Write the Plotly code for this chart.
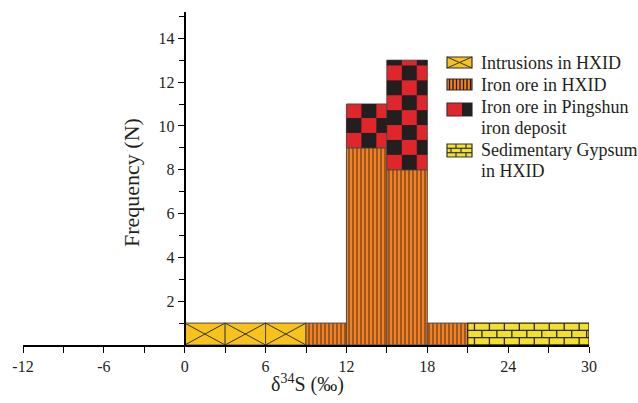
import math
import plotly.graph_objects as go

# ---------------- data ----------------
bin_left = [0, 3, 6, 9, 12, 15, 18, 21, 24, 27]
bin_width = 3
intrusions = [1, 1, 1, 0, 0, 0, 0, 0, 0, 0]
iron_ore_hxid = [0, 0, 0, 1, 9, 8, 1, 0, 0, 0]
iron_ore_pingshun = [0, 0, 0, 0, 2, 5, 0, 0, 0, 0]
gypsum = [0, 0, 0, 0, 0, 0, 0, 1, 1, 1]
legend_labels = [["Intrusions in HXID"], ["Iron ore in HXID"],
                 ["Iron ore in Pingshun", "iron deposit"],
                 ["Sedimentary Gypsum", "in HXID"]]
x_tick_vals = [-12, -6, 0, 6, 12, 18, 24, 30]
x_tick_text = ["-12", "-6", "0", "6", "12", "18", "24", "30"]
y_tick_vals = [2, 4, 6, 8, 10, 12, 14]
y_tick_text = ["2", "4", "6", "8", "10", "12", "14"]
x_range = [-12, 30]
y_range = [0, 15.2]

# ---------------- style ----------------
FONT = "Liberation Serif"
TXT = "#231f20"
C_INTR = "#f7c21a"
C_IRON = "#ee8228"
C_RED = "#e0262b"
C_BLACK = "#231f20"
C_GYP = "#f2e12c"
EDGE = "#4a4a4a"
W, H = 638, 403
ML, MR, MT, MB = 23, 49, 12, 58
PW, PH = W - ML - MR, H - MT - MB
CHECK_W, CHECK_H = 1.11, 0.68      # checker cell size (data units)
BRICK_W = 1.11                      # brick length (data units)

fig = go.Figure()


def bar_trace(vals, base, color, line_w=1, pattern=None):
    idx = [i for i, v in enumerate(vals) if v > 0]
    kw = dict(color=color, line=dict(color=EDGE, width=line_w))
    if pattern:
        kw["pattern"] = pattern
    return go.Bar(
        x=[bin_left[i] + bin_width / 2 for i in idx],
        y=[vals[i] for i in idx],
        base=[base[i] for i in idx],
        width=bin_width, marker=kw, showlegend=False, hoverinfo="skip")


zeros = [0] * len(bin_left)
fig.add_trace(bar_trace(intrusions, zeros, C_INTR))
fig.add_trace(bar_trace(iron_ore_hxid, zeros, C_IRON, pattern=dict(
    shape="|", fgcolor="#2e1405", bgcolor=C_IRON, size=4, solidity=0.4)))
fig.add_trace(bar_trace(iron_ore_pingshun, iron_ore_hxid, C_RED))
fig.add_trace(bar_trace(gypsum, zeros, C_GYP, line_w=0))

# X marks inside intrusion cells
xs, ys = [], []
for i, v in enumerate(intrusions):
    if v > 0:
        l, r = bin_left[i], bin_left[i] + bin_width
        xs += [l, r, None, l, r, None]
        ys += [0, v, None, v, 0, None]
fig.add_trace(go.Scatter(x=xs, y=ys, mode="lines", line=dict(color="#333333", width=1),
                         showlegend=False, hoverinfo="skip"))

# brick lines for gypsum
g_idx = [i for i, v in enumerate(gypsum) if v > 0]
bx, by = [], []
if g_idx:
    g0 = bin_left[g_idx[0]]
    g1 = bin_left[g_idx[-1]] + bin_width
    for i in g_idx:
        l, r, h = bin_left[i], bin_left[i] + bin_width, gypsum[i]
        for k in range(4):
            bx += [l, r, None]
            by += [h * k / 3, h * k / 3, None]
        for row in range(3):
            off = 0.5 + (BRICK_W / 2 if row == 1 else 0)
            m = 0
            while True:
                xv = g0 + off + m * BRICK_W
                if xv >= g1 - 0.05:
                    break
                if l <= xv < r:
                    bx += [xv, xv, None]
                    by += [h * row / 3, h * (row + 1) / 3, None]
                m += 1
    hmax = max(gypsum)
    bx += [g0, g0, None, g1, g1, None]
    by += [0, hmax, None, 0, hmax, None]
fig.add_trace(go.Scatter(x=bx, y=by, mode="lines", line=dict(color="#2b2714", width=1.3),
                         showlegend=False, hoverinfo="skip"))

shapes = []
# checkerboard for Pingshun
for i, v in enumerate(iron_ore_pingshun):
    if v <= 0:
        continue
    l, r = bin_left[i], bin_left[i] + bin_width
    b0, top = iron_ore_hxid[i], iron_ore_hxid[i] + v
    for c in range(math.ceil(bin_width / CHECK_W)):
        for rr in range(math.ceil(v / CHECK_H)):
            if (c + rr) % 2 == 1:
                shapes.append(dict(type="rect", xref="x", yref="y",
                                   x0=l + c * CHECK_W, x1=min(l + (c + 1) * CHECK_W, r),
                                   y0=b0 + rr * CHECK_H, y1=min(b0 + (rr + 1) * CHECK_H, top),
                                   fillcolor=C_BLACK, line=dict(width=0), layer="above"))


def px(xp):
    return (xp - ML) / PW


def py(yp):
    return (MT + PH - yp) / PH


def sw_rect(x0, y0, x1, y1, fill, lw=1.2):
    shapes.append(dict(type="rect", xref="paper", yref="paper", x0=px(x0), x1=px(x1),
                       y0=py(y1), y1=py(y0), fillcolor=fill,
                       line=dict(color="#333333", width=lw)))


def sw_line(x0, y0, x1, y1, color="#333333", w=1):
    shapes.append(dict(type="line", xref="paper", yref="paper", x0=px(x0), x1=px(x1),
                       y0=py(y0), y1=py(y1), line=dict(color=color, width=w)))


SX0, SX1 = 447, 472
# legend 1: intrusions
sw_rect(SX0, 57, SX1, 68, C_INTR)
sw_line(SX0, 57, SX1, 68)
sw_line(SX0, 68, SX1, 57)
# legend 2: iron ore
sw_rect(SX0, 79, SX1, 90, C_IRON)
for k in range(7):
    xv = SX0 + 2.5 + k * 3.5
    sw_line(xv, 79, xv, 90, color="#2e1405", w=1.3)
# legend 3: Pingshun
sw_rect(SX0, 103, SX1, 116, C_RED)
shapes.append(dict(type="rect", xref="paper", yref="paper", x0=px(462), x1=px(SX1),
                   y0=py(116), y1=py(103), fillcolor=C_BLACK, line=dict(width=0)))
# legend 4: gypsum
sw_rect(SX0, 144, SX1, 157, C_GYP)
sw_line(SX0, 148.3, SX1, 148.3, w=1.2)
sw_line(SX0, 152.7, SX1, 152.7, w=1.2)
for xv in (456, 466):
    sw_line(xv, 144, xv, 148.3, w=1.2)
    sw_line(xv, 152.7, xv, 157, w=1.2)
for xv in (451, 461):
    sw_line(xv, 148.3, xv, 152.7, w=1.2)

annotations = []
text_y = [[63], [85], [107, 128], [150, 171]]
for lines, ys_ in zip(legend_labels, text_y):
    for t, yv in zip(lines, ys_):
        annotations.append(dict(text=t, x=px(479), y=py(yv), xref="paper", yref="paper",
                                xanchor="left", yanchor="middle", showarrow=False,
                                font=dict(family=FONT, size=18, color=TXT)))
annotations.append(dict(text="Frequency (N)", textangle=-90, x=px(131), y=py(183),
                        xref="paper", yref="paper", xanchor="center", yanchor="middle",
                        showarrow=False, font=dict(family=FONT, size=22, color=TXT)))
annotations.append(dict(text="δ<sup>34</sup>S (‰)", x=px(307), y=py(383),
                        xref="paper", yref="paper", xanchor="center", yanchor="middle",
                        showarrow=False, font=dict(family=FONT, size=20, color=TXT)))

fig.update_layout(
    width=W, height=H, margin=dict(l=ML, r=MR, t=MT, b=MB),
    paper_bgcolor="white", plot_bgcolor="white", barmode="overlay",
    shapes=shapes, annotations=annotations, showlegend=False,
    font=dict(family=FONT, color=TXT),
    xaxis=dict(range=x_range, showgrid=False, zeroline=False, showline=True,
               linecolor="black", linewidth=1.5, ticks="outside", ticklen=6,
               tickwidth=1.2, tickcolor="black", tickvals=x_tick_vals, ticktext=x_tick_text,
               tickfont=dict(family=FONT, size=16, color=TXT),
               minor=dict(dtick=3, tick0=0, ticks="outside", ticklen=6, tickwidth=1.2,
                          tickcolor="black", showgrid=False)),
    yaxis=dict(range=y_range, showgrid=False, zeroline=False, showline=True,
               anchor="free", position=(0 - x_range[0]) / (x_range[1] - x_range[0]),
               linecolor="black", linewidth=2.2, ticks="outside", ticklen=6,
               tickwidth=1.2, tickcolor="black", tickvals=y_tick_vals, ticktext=y_tick_text,
               tickfont=dict(family=FONT, size=16, color=TXT),
               minor=dict(dtick=1, tick0=0, ticks="outside", ticklen=5, tickwidth=1.2,
                          tickcolor="black", showgrid=False)),
)

fig.write_html("out.html")
